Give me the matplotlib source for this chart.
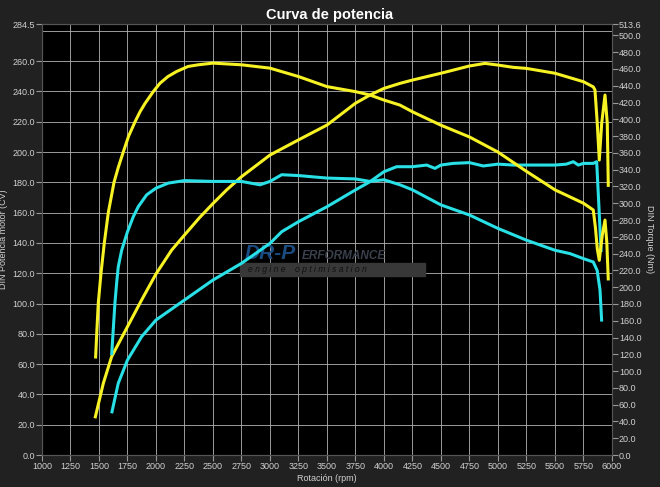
import matplotlib
matplotlib.use("Agg")
import matplotlib.pyplot as plt
from matplotlib.patches import Rectangle

plt.rcParams['font.family'] = ['Liberation Sans', 'DejaVu Sans']

# yellow curves (tuned)
rpm_pow_y = [1465, 1538, 1611, 1750, 1874, 2000, 2138, 2250, 2380, 2500, 2620, 2750, 3000, 3250, 3500,
             3750, 3877, 4000, 4140, 4250, 4500, 4750, 4886, 5000, 5134, 5250, 5500, 5750, 5836,
             5851, 5871, 5889, 5910, 5939, 5959, 5968]
pow_y = [24.2, 47.3, 64.9, 84.7, 102.3, 119.5, 135.3, 145.2, 156.5, 166.0, 175.0, 183.7, 198.0, 208.0, 217.8,
         232.2, 237.6, 242.0, 245.3, 247.5, 252.0, 256.8, 258.5, 257.4, 255.9, 255.2, 252.0, 246.4, 243.0,
         241.0, 219.0, 194.7, 219.0, 237.6, 219.0, 177.0]

rpm_tq_y = [1470, 1480, 1494, 1518, 1547, 1582, 1632, 1670, 1713, 1760, 1816, 1860, 1904, 1976, 2035,
            2105, 2181, 2281, 2371, 2500, 2750, 3000, 3250, 3500, 3750, 3877, 4000, 4140, 4250, 4500,
            4750, 5000, 5250, 5500, 5750, 5836, 5855, 5872, 5889, 5915, 5939, 5955, 5968]
tq_y = [115, 144, 181, 217, 253, 289, 325, 343, 361, 380, 397, 409, 419, 433, 443,
        451, 457, 463, 465, 467, 465, 461, 451, 439, 433, 429, 423, 417, 409, 393,
        379, 361, 338, 316, 300, 292, 271, 245, 232, 262, 280, 253, 208]

# cyan curves (stock)
rpm_pow_c = [1611, 1669, 1750, 1874, 2000, 2250, 2500, 2750, 3000, 3103, 3250, 3500, 3750, 3877, 4000,
             4111, 4250, 4375, 4447, 4500, 4608, 4750, 4871, 5000, 5134, 5250, 5368, 5500, 5600, 5661,
             5705, 5750, 5836, 5866, 5885, 5905]
pow_c = [27.5, 47.3, 62.7, 78.1, 89.1, 102.3, 115.5, 126.5, 139.7, 147.4, 154.0, 163.9, 175.0, 180.4, 187.0,
         190.3, 190.3, 191.4, 189.2, 191.4, 192.5, 193.0, 190.8, 192.0, 191.4, 191.4, 191.4, 191.4, 192.0, 193.6,
         191.4, 192.5, 192.5, 193.6, 165.0, 134.0]

rpm_tq_c = [1611, 1640, 1655, 1669, 1699, 1750, 1801, 1845, 1918, 2000, 2108, 2250, 2500, 2750, 2912,
            3000, 3103, 3250, 3500, 3750, 3877, 4000, 4140, 4250, 4500, 4750, 5000, 5250, 5500, 5632,
            5750, 5836, 5870, 5895, 5910]
tq_c = [119, 181, 205, 224, 244, 266, 284, 296, 310, 318, 324, 327, 326, 326, 322,
        326, 334, 333, 330, 329, 326, 328, 322, 316, 298, 286, 270, 256, 244, 240,
        234, 230, 220, 197, 159]

x_ticks = list(range(1000, 6001, 250))
left_ticks = list(range(0, 261, 20)) + [284.5]
right_ticks = list(range(0, 501, 20)) + [513.6]

bg = '#212121'
fg = '#d0d0d0'
yellow = '#f7f224'
cyan = '#28e0e6'

fig = plt.figure(figsize=(6.6, 4.87), dpi=100, facecolor=bg)
ax = fig.add_axes([0.0636, 0.0657, 0.8636, 0.885])
ax.set_facecolor('black')
ax2 = ax.twinx()

ax.set_xlim(1000, 6000)
ax.set_ylim(0, 284.5)
ax2.set_ylim(0, 513.6)

for y in range(0, 281, 20):
    ax.axhline(y, color='#b4b4b4', lw=0.6, zorder=1)
for x in x_ticks:
    ax.axvline(x, color='#b4b4b4', lw=0.6, zorder=1)

ax.plot(rpm_pow_y, pow_y, color=yellow, lw=2.2, solid_capstyle='butt', zorder=3)
ax.plot(rpm_pow_c, pow_c, color=cyan, lw=2.2, solid_capstyle='butt', zorder=3)
ax2.plot(rpm_tq_y, tq_y, color=yellow, lw=2.2, solid_capstyle='butt', zorder=3)
ax2.plot(rpm_tq_c, tq_c, color=cyan, lw=2.2, solid_capstyle='butt', zorder=3)

ax.set_xticks(x_ticks)
ax.set_xticklabels([str(x) for x in x_ticks])
ax.set_yticks(left_ticks)
ax.set_yticklabels([f'{v:.1f}' for v in left_ticks])
ax2.set_yticks(right_ticks)
ax2.set_yticklabels([f'{v:.1f}' for v in right_ticks])

for a in (ax, ax2):
    a.tick_params(colors='#999999', labelcolor=fg, labelsize=6.5, length=4, width=0.8, pad=1)
    for s in a.spines.values():
        s.set_color('#555555')

ax.set_xlabel('Rotación (rpm)', color=fg, fontsize=6.5, labelpad=2)
ax.set_ylabel('DIN Potencia motor (CV)', color=fg, fontsize=6.5, labelpad=3)
ax2.set_ylabel('DIN Torque (Nm)', color=fg, fontsize=6.5, rotation=270, labelpad=9)
fig.text(0.5, 0.983, 'Curva de potencia', ha='center', va='top', color='white',
         fontsize=10.5, fontweight='bold')

# watermark
ax.add_patch(Rectangle((0.347, 0.415), 0.325, 0.03, transform=ax.transAxes,
                       color='#383838', zorder=2))
ax.text(0.355, 0.445, 'DR-P', transform=ax.transAxes, color='#1a4c82', fontsize=15,
        fontweight='bold', style='italic', va='bottom', zorder=2)
ax.text(0.455, 0.447, 'ERFORMANCE', transform=ax.transAxes, color='#3a404c', fontsize=8.5,
        fontweight='bold', style='italic', va='bottom', zorder=2)
ax.text(0.362, 0.43, 'e n g i n e    o p t i m i s a t i o n', transform=ax.transAxes,
        color='#101010', fontsize=6.2, style='italic', va='center', zorder=2)

fig.savefig('out.png', dpi=100, facecolor=bg)
